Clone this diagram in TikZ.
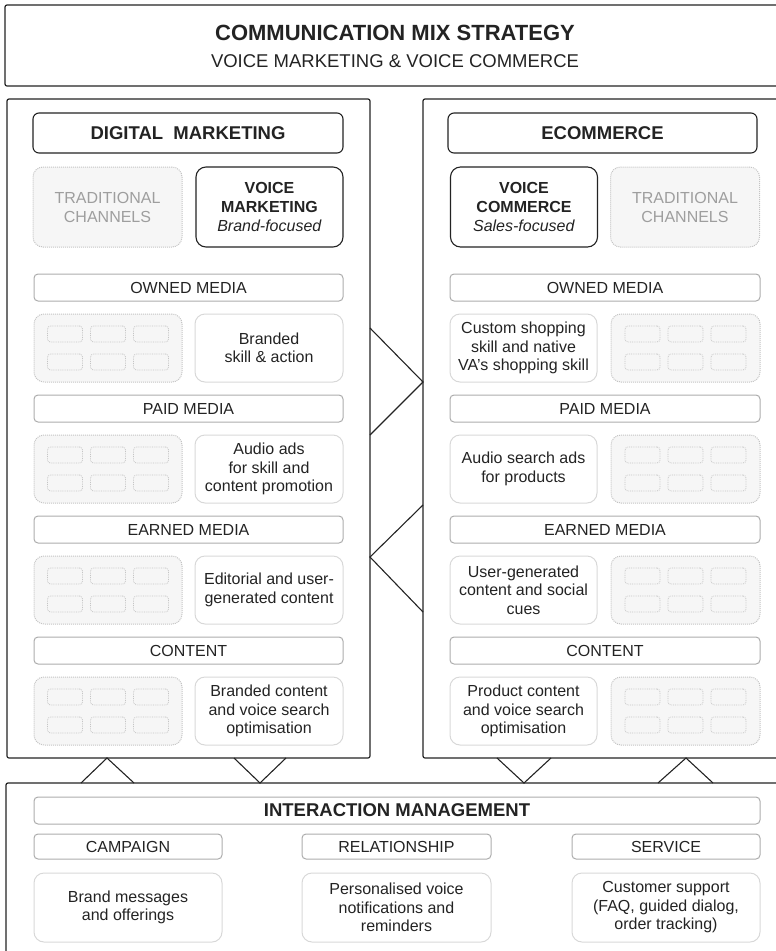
\documentclass[tikz,border=0pt]{standalone}
\usepackage{fontspec}
\setmainfont{Liberation Sans}

\definecolor{inkline}{RGB}{35,35,35}
\definecolor{barline}{RGB}{172,172,172}
\definecolor{cardline}{RGB}{216,216,216}
\definecolor{dotline}{RGB}{196,196,196}
\definecolor{dotfill}{RGB}{246,246,246}
\definecolor{fadetext}{RGB}{158,158,158}

\tikzset{every picture/.style={line width=1pt}}
\tikzset{
  panel/.style={draw=inkline, line width=1.2pt, rounded corners=2pt, inner sep=0pt},
  headbox/.style={draw=inkline, line width=1.1pt, rounded corners=6pt, minimum height=40pt,
    text=inkline, font=\fontsize{18.5}{22}\selectfont\bfseries},
  voicebox/.style={draw=inkline, line width=1.1pt, rounded corners=10pt, minimum width=147pt,
    minimum height=80pt, align=center, text=inkline, font=\fontsize{16}{19}\selectfont},
  tradbox/.style={draw=dotline, densely dotted, fill=dotfill, rounded corners=10pt, minimum width=149pt,
    minimum height=80pt, align=center, text=fadetext, font=\fontsize{16}{19}\selectfont},
  mediabar/.style={draw=barline, rounded corners=4pt, minimum height=27pt, inner sep=0pt,
    text=inkline, font=\fontsize{16}{19}\selectfont},
  card/.style={draw=cardline, rounded corners=10pt, minimum width=148pt, minimum height=68pt,
    inner sep=2pt, align=center, text=inkline, font=\fontsize{16}{18.5}\selectfont},
  gridbox/.style={draw=dotline, densely dotted, fill=dotfill, rounded corners=10pt,
    minimum width=148pt, minimum height=68pt},
  cell/.style={draw=dotline, densely dotted, line width=0.8pt, rounded corners=3pt,
    minimum width=35pt, minimum height=16pt, inner sep=0pt},
  link/.style={draw=inkline, line width=1.1pt},
}

\begin{document}
\begin{tikzpicture}[x=1pt,y=1pt,yscale=-1,xscale=1]
\useasboundingbox (0,0) rectangle (776,951);
\clip (0,0) rectangle (776,951);

%Shape: Top frame
\node [panel, minimum width=780pt, minimum height=81pt] (mixframe) at (395,45.5) {};
% Text Node
\node [text=inkline, font=\fontsize{22}{26}\selectfont\bfseries] (mixtitle) at (395,33) {COMMUNICATION MIX STRATEGY};
% Text Node
\node [text=inkline, font=\fontsize{18.5}{22}\selectfont] (mixsub) at (395,61) {VOICE MARKETING \& VOICE COMMERCE};

%Shape: Panels
\node [panel, minimum width=363pt, minimum height=659pt] (dmpanel) at (188.5,428.5) {};
\node [panel, minimum width=363pt, minimum height=659pt] (ecpanel) at (604.5,428.5) {};
\node [panel, minimum width=780pt, minimum height=180pt] (impanel) at (396,873) {};

%Digital marketing side
\node [headbox, minimum width=310pt] (dmhead) at (188,133) {DIGITAL\ \ MARKETING};
\node [tradbox] (dmtrad) at (107.5,207) {TRADITIONAL\\CHANNELS};
\node [voicebox] (dmvoice) at (269.5,207) {\textbf{VOICE}\\\textbf{MARKETING}\\\textit{Brand-focused}};

\node [mediabar, minimum width=309pt] (dmowned) at (188.5,287.5) {OWNED MEDIA};
\node [gridbox] (dmg1) at (108,348) {};
\node [card] (dmc1) at (269,348) {Branded\\skill \& action};

\node [mediabar, minimum width=309pt] (dmpaid) at (188.5,408.5) {PAID MEDIA};
\node [gridbox] (dmg2) at (108,469) {};
\node [card] (dmc2) at (269,469) {Audio ads\\for skill and\\content promotion};

\node [mediabar, minimum width=309pt] (dmearned) at (188.5,529.5) {EARNED MEDIA};
\node [gridbox] (dmg3) at (108,590) {};
\node [card] (dmc3) at (269,590) {Editorial and user-\\generated content};

\node [mediabar, minimum width=309pt] (dmcontent) at (188.5,650.5) {CONTENT};
\node [gridbox] (dmg4) at (108,711) {};
\node [card] (dmc4) at (269,711) {Branded content\\and voice search\\optimisation};

%Ecommerce side
\node [headbox, minimum width=309pt] (echead) at (602.5,133) {ECOMMERCE};
\node [voicebox] (ecvoice) at (524,207) {\textbf{VOICE}\\\textbf{COMMERCE}\\\textit{Sales-focused}};
\node [tradbox] (ectrad) at (685,207) {TRADITIONAL\\CHANNELS};

\node [mediabar, minimum width=310pt] (ecowned) at (605,287.5) {OWNED MEDIA};
\node [card, minimum width=147pt] (ecc1) at (523.5,348) {Custom shopping\\skill and native\\VA's shopping skill};
\node [gridbox, minimum width=149pt] (ecg1) at (685.5,348) {};

\node [mediabar, minimum width=310pt] (ecpaid) at (605,408.5) {PAID MEDIA};
\node [card, minimum width=147pt] (ecc2) at (523.5,469) {Audio search ads\\for products};
\node [gridbox, minimum width=149pt] (ecg2) at (685.5,469) {};

\node [mediabar, minimum width=310pt] (ecearned) at (605,529.5) {EARNED MEDIA};
\node [card, minimum width=147pt] (ecc3) at (523.5,590) {User-generated\\content and social\\cues};
\node [gridbox, minimum width=149pt] (ecg3) at (685.5,590) {};

\node [mediabar, minimum width=310pt] (eccontent) at (605,650.5) {CONTENT};
\node [card, minimum width=147pt] (ecc4) at (523.5,711) {Product content\\and voice search\\optimisation};
\node [gridbox, minimum width=149pt] (ecg4) at (685.5,711) {};

%Placeholder cells
\foreach \g in {dmg1,dmg2,dmg3,dmg4,ecg1,ecg2,ecg3,ecg4}
  \foreach \cx [count=\i] in {-43,0,43}
    \foreach \cy [count=\j] in {-14,14}
      \node [cell] (\g-\i-\j) at ([xshift=\cx pt,yshift=\cy pt]\g.center) {};

%Interaction management
\node [mediabar, minimum width=726pt, font=\fontsize{18.5}{22}\selectfont\bfseries] (imhead) at (397,810.5) {INTERACTION MANAGEMENT};
\node [mediabar, minimum width=188pt, minimum height=25pt] (imcamp) at (128,846.5) {CAMPAIGN};
\node [mediabar, minimum width=189pt, minimum height=25pt] (imrel) at (396.5,846.5) {RELATIONSHIP};
\node [mediabar, minimum width=188pt, minimum height=25pt] (imserv) at (666,846.5) {SERVICE};
\node [card, minimum width=188pt, minimum height=69pt] (imcampc) at (128,907.5) {Brand messages\\and offerings};
\node [card, minimum width=189pt, minimum height=69pt] (imrelc) at (396.5,907.5) {Personalised voice\\notifications and\\reminders};
\node [card, minimum width=188pt, minimum height=69pt] (imservc) at (666,907.5) {Customer support\\(FAQ, guided dialog,\\order tracking)};

%Straight Lines: zigzags between panels
\coordinate (zz1) at (370,328);
\coordinate (zz2) at (423,382);
\coordinate (zz3) at (370,435);
\coordinate (zz4) at (423,505);
\coordinate (zz5) at (370,557);
\coordinate (zz6) at (423,612);
\draw [link] (zz1) -- (zz2) -- (zz3);
\draw [link] (zz4) -- (zz5) -- (zz6);

%Straight Lines: triangles to interaction management
\coordinate (tra1) at (81,783);
\coordinate (tra2) at (107,758);
\coordinate (tra3) at (134,783);
\coordinate (trb1) at (234,758);
\coordinate (trb2) at (260,783);
\coordinate (trb3) at (286,758);
\coordinate (trc1) at (497,758);
\coordinate (trc2) at (524,783);
\coordinate (trc3) at (551,758);
\coordinate (trd1) at (658,783);
\coordinate (trd2) at (686,758);
\coordinate (trd3) at (713,783);
\draw [link] (tra1) -- (tra2) -- (tra3);
\draw [link] (trb1) -- (trb2) -- (trb3);
\draw [link] (trc1) -- (trc2) -- (trc3);
\draw [link] (trd1) -- (trd2) -- (trd3);

\end{tikzpicture}
\end{document}
